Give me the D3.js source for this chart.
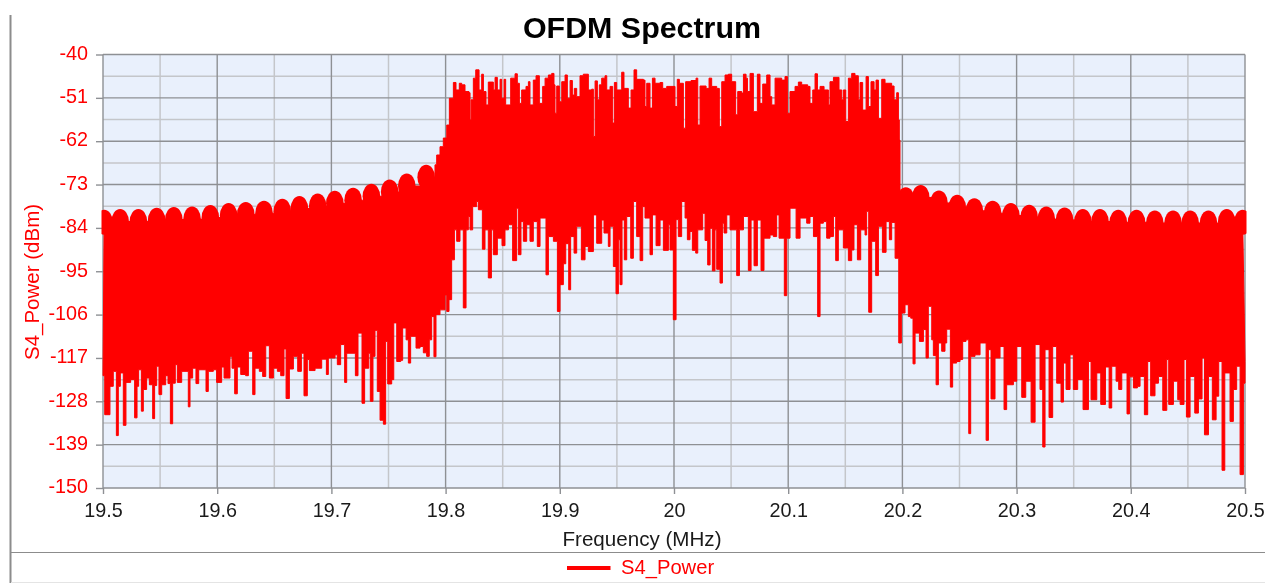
<!DOCTYPE html>
<html>
<head>
<meta charset="utf-8">
<script src="https://cdn.jsdelivr.net/npm/d3@7/dist/d3.min.js"></script>
<style>
  html, body { margin: 0; padding: 0; background: #fff; }
  svg { display: block; font-family: "Liberation Sans", Arial, sans-serif; filter: blur(0.4px); }
</style>
</head>
<body>
<svg id="chart" width="1265" height="583"></svg>
<script>
const xTicks = [19.5, 19.6, 19.7, 19.8, 19.9, 20, 20.1, 20.2, 20.3, 20.4, 20.5];
const xMinorTicks = [19.55, 19.65, 19.75, 19.85, 19.95, 20.05, 20.15, 20.25, 20.35, 20.45];
const yTicks = [-40, -51, -62, -73, -84, -95, -106, -117, -128, -139, -150];
const yMinorTicks = [-45.5, -56.5, -67.5, -78.5, -89.5, -100.5, -111.5, -122.5, -133.5, -144.5];

// rounded side-lobe tops of the stop bands [MHz, dBm]
const leftLobes = [
  [19.501,-79.4],[19.515,-79.2],[19.531,-79.2],[19.547,-78.9],[19.562,-78.7],[19.578,-78.6],
  [19.594,-78.2],[19.610,-77.7],[19.625,-77.4],[19.641,-77.1],[19.657,-76.6],[19.672,-75.9],
  [19.688,-75.3],[19.703,-74.6],[19.719,-73.8],[19.735,-72.8],[19.751,-71.7],[19.766,-70.2],
  [19.783,-68.0]
];
const rightLobes = [
  [20.203,-73.7],[20.216,-73.1],[20.232,-74.5],[20.248,-75.6],[20.263,-76.5],[20.279,-77.1],
  [20.295,-77.7],[20.311,-78.1],[20.326,-78.6],[20.342,-78.8],[20.358,-79.2],[20.373,-79.2],
  [20.389,-79.4],[20.405,-79.4],[20.421,-79.6],[20.437,-79.6],[20.452,-79.6],[20.468,-79.6],
  [20.484,-79.2],[20.498,-79.4]
];

// upper edge of the pass band
const passbandTop = [
  [19.7907,-68.0],[19.7922,-65.5],[19.7951,-63.4],[19.7980,-61.2],[19.8010,-57.9],[19.8033,-51.1],
  [19.8068,-47.1],[19.8091,-49.0],[19.8120,-47.3],[19.8141,-47.7],[19.8170,-49.4],[19.8205,-49.7],
  [19.8214,-56.6],[19.8223,-51.5],[19.8243,-46.0],[19.8264,-43.9],[19.8293,-49.0],[19.8316,-45.0],
  [19.8331,-49.4],[19.8354,-52.8],[19.8374,-47.0],[19.8418,-49.0],[19.8433,-45.8],[19.8453,-49.0],
  [19.8477,-46.3],[19.8491,-51.1],[19.8512,-46.3],[19.8526,-52.8],[19.8570,-46.0],[19.8608,-44.9],
  [19.8628,-47.3],[19.8646,-52.4],[19.8666,-49.0],[19.8704,-48.1],[19.8725,-46.9],[19.8739,-52.8],
  [19.8768,-46.5],[19.8792,-45.4],[19.8821,-52.4],[19.8850,-48.1],[19.8871,-46.0],[19.8900,-45.2],
  [19.8929,-44.8],[19.8949,-47.7],[19.8958,-54.9],[19.8973,-48.0],[19.8996,-52.0],[19.9017,-46.9],
  [19.9046,-45.2],[19.9066,-51.1],[19.9090,-46.6],[19.9110,-50.3],[19.9127,-48.6],[19.9148,-50.7],
  [19.9177,-45.4],[19.9206,-45.0],[19.9250,-49.0],[19.9279,-48.8],[19.9294,-60.8],[19.9309,-46.7],
  [19.9329,-51.5],[19.9346,-47.7],[19.9367,-46.0],[19.9396,-45.4],[19.9411,-49.0],[19.9440,-48.1],
  [19.9463,-57.4],[19.9478,-47.1],[19.9498,-49.0],[19.9542,-44.5],[19.9562,-48.6],[19.9600,-53.6],
  [19.9624,-49.0],[19.9650,-43.9],[19.9673,-46.3],[19.9732,-46.5],[19.9746,-53.2],[19.9761,-47.3],
  [19.9790,-53.6],[19.9811,-46.0],[19.9834,-47.3],[19.9878,-47.1],[19.9901,-48.6],[19.9936,-48.1],
  [19.9965,-48.1],[20.0009,-53.2],[20.0029,-46.3],[20.0047,-47.3],[20.0082,-58.7],[20.0102,-46.9],
  [20.0149,-46.6],[20.0193,-46.0],[20.0208,-57.9],[20.0228,-48.0],[20.0281,-48.6],[20.0307,-46.0],
  [20.0330,-48.1],[20.0374,-48.6],[20.0397,-58.3],[20.0418,-46.9],[20.0447,-45.2],[20.0476,-45.0],
  [20.0505,-46.9],[20.0540,-55.3],[20.0558,-49.4],[20.0593,-49.8],[20.0608,-45.0],[20.0631,-46.0],
  [20.0643,-49.4],[20.0666,-44.8],[20.0695,-54.5],[20.0730,-45.0],[20.0753,-52.4],[20.0777,-47.5],
  [20.0812,-45.2],[20.0841,-50.7],[20.0856,-52.8],[20.0885,-46.0],[20.0943,-46.5],[20.0972,-45.6],
  [20.0993,-54.9],[20.1016,-49.4],[20.1060,-48.1],[20.1089,-47.0],[20.1118,-47.7],[20.1171,-48.1],
  [20.1191,-52.4],[20.1215,-49.0],[20.1235,-44.9],[20.1256,-49.0],[20.1279,-48.1],[20.1314,-49.0],
  [20.1352,-52.8],[20.1366,-46.9],[20.1396,-45.8],[20.1445,-49.0],[20.1469,-51.5],[20.1483,-49.0],
  [20.1504,-57.0],[20.1527,-46.0],[20.1556,-44.8],[20.1585,-45.4],[20.1614,-51.5],[20.1629,-47.1],
  [20.1652,-54.1],[20.1682,-45.6],[20.1702,-53.2],[20.1725,-46.9],[20.1752,-49.0],[20.1769,-46.5],
  [20.1790,-56.2],[20.1819,-46.3],[20.1848,-47.3],[20.1906,-48.0],[20.1927,-51.5],[20.1950,-49.7],
  [20.1965,-56.6],[20.1973,-61.7],[20.1979,-75.2]
];

// lower edge of the whole trace, spikes included
const traceBottom = [
  [19.5000,-121.5],[19.5015,-131.4],[19.5061,-124.2],[19.5090,-120.4],[19.5117,-136.7],[19.5134,-124.2],
  [19.5152,-120.8],[19.5178,-134.1],[19.5201,-123.2],[19.5242,-122.5],[19.5277,-132.2],[19.5298,-124.2],
  [19.5312,-120.0],[19.5336,-130.5],[19.5353,-125.0],[19.5382,-122.1],[19.5406,-123.8],[19.5435,-132.4],
  [19.5452,-124.0],[19.5470,-119.1],[19.5490,-126.3],[19.5514,-123.8],[19.5549,-121.5],[19.5569,-123.5],
  [19.5590,-133.7],[19.5610,-123.4],[19.5633,-118.7],[19.5651,-123.2],[19.5689,-120.4],[19.5747,-129.4],
  [19.5762,-122.1],[19.5785,-119.6],[19.5814,-123.5],[19.5838,-120.0],[19.5902,-125.5],[19.5922,-120.4],
  [19.5966,-120.0],[19.5995,-123.2],[19.6039,-119.3],[19.6060,-122.1],[19.6112,-116.6],[19.6130,-119.6],
  [19.6153,-126.1],[19.6176,-119.3],[19.6206,-121.2],[19.6249,-121.5],[19.6273,-115.3],[19.6311,-126.3],
  [19.6331,-119.6],[19.6369,-120.4],[19.6398,-121.7],[19.6425,-113.9],[19.6457,-122.1],[19.6492,-119.6],
  [19.6527,-120.4],[19.6556,-121.5],[19.6585,-114.7],[19.6603,-127.3],[19.6632,-119.8],[19.6667,-116.6],
  [19.6705,-120.4],[19.6737,-115.8],[19.6760,-126.6],[19.6789,-117.4],[19.6807,-120.2],[19.6857,-119.6],
  [19.6915,-117.3],[19.6956,-121.2],[19.6973,-117.0],[19.7032,-116.2],[19.7052,-118.7],[19.7081,-113.6],
  [19.7116,-123.2],[19.7134,-115.8],[19.7210,-121.5],[19.7233,-110.7],[19.7268,-128.5],[19.7291,-119.6],
  [19.7327,-115.8],[19.7341,-128.0],[19.7364,-116.6],[19.7382,-110.0],[19.7402,-125.5],[19.7426,-132.8],
  [19.7455,-133.8],[19.7475,-112.8],[19.7493,-123.6],[19.7528,-122.5],[19.7546,-108.1],[19.7572,-117.9],
  [19.7607,-117.6],[19.7624,-109.4],[19.7654,-112.4],[19.7674,-118.3],[19.7694,-111.5],[19.7741,-114.5],
  [19.7776,-114.1],[19.7805,-115.7],[19.7834,-116.6],[19.7857,-112.4],[19.7878,-106.5],[19.7898,-116.7],
  [19.7916,-106.0],[19.7951,-104.8],[19.7995,-101.0],[19.8010,-105.2],[19.8030,-102.2],[19.8053,-92.1],
  [19.8077,-84.5],[19.8097,-87.4],[19.8126,-84.5],[19.8155,-104.3],[19.8179,-84.5],[19.8199,-81.1],
  [19.8214,-84.5],[19.8237,-78.6],[19.8272,-77.3],[19.8287,-79.4],[19.8322,-89.4],[19.8345,-84.5],
  [19.8374,-96.7],[19.8401,-84.5],[19.8418,-90.8],[19.8453,-86.6],[19.8494,-88.5],[19.8520,-84.5],
  [19.8550,-83.2],[19.8587,-92.3],[19.8622,-79.0],[19.8637,-90.8],[19.8660,-82.4],[19.8681,-87.4],
  [19.8710,-83.2],[19.8739,-87.4],[19.8768,-82.4],[19.8803,-88.7],[19.8827,-81.5],[19.8879,-95.9],
  [19.8900,-86.2],[19.8944,-87.4],[19.8979,-105.2],[19.9002,-98.4],[19.9031,-93.1],[19.9052,-88.0],
  [19.9078,-99.7],[19.9095,-86.2],[19.9125,-90.4],[19.9148,-83.6],[19.9189,-92.1],[19.9221,-88.7],
  [19.9250,-90.0],[19.9294,-80.7],[19.9323,-87.9],[19.9367,-82.0],[19.9387,-85.3],[19.9425,-88.7],
  [19.9440,-83.6],[19.9469,-93.8],[19.9492,-100.7],[19.9513,-87.0],[19.9527,-98.4],[19.9545,-82.0],
  [19.9565,-92.1],[19.9586,-81.1],[19.9621,-91.7],[19.9644,-77.3],[19.9673,-86.2],[19.9703,-92.3],
  [19.9726,-78.6],[19.9746,-81.5],[19.9790,-90.8],[19.9811,-80.7],[19.9843,-88.5],[19.9878,-82.0],
  [19.9907,-89.7],[19.9951,-83.2],[19.9965,-89.6],[19.9994,-107.3],[20.0018,-81.9],[20.0038,-86.2],
  [20.0067,-77.3],[20.0097,-81.5],[20.0117,-87.0],[20.0140,-84.9],[20.0161,-89.7],[20.0190,-90.4],
  [20.0208,-84.5],[20.0251,-80.3],[20.0272,-87.2],[20.0295,-93.4],[20.0316,-84.1],[20.0336,-94.9],
  [20.0359,-84.5],[20.0374,-94.5],[20.0403,-98.0],[20.0424,-82.8],[20.0438,-85.3],[20.0462,-80.7],
  [20.0491,-84.5],[20.0549,-96.1],[20.0573,-84.5],[20.0608,-81.1],[20.0651,-94.8],[20.0675,-82.0],
  [20.0701,-93.6],[20.0730,-82.0],[20.0762,-94.8],[20.0788,-86.6],[20.0841,-85.8],[20.0870,-86.2],
  [20.0899,-80.7],[20.0920,-86.6],[20.0966,-101.2],[20.0987,-86.6],[20.1016,-79.0],[20.1069,-86.6],
  [20.1104,-81.5],[20.1162,-82.8],[20.1191,-81.1],[20.1221,-86.2],[20.1258,-106.5],[20.1279,-82.8],
  [20.1308,-82.4],[20.1337,-86.6],[20.1366,-86.2],[20.1396,-81.1],[20.1416,-92.3],[20.1439,-84.5],
  [20.1483,-89.1],[20.1527,-92.3],[20.1556,-89.6],[20.1576,-83.2],[20.1606,-92.1],[20.1635,-84.5],
  [20.1673,-85.8],[20.1687,-79.8],[20.1705,-105.4],[20.1731,-87.4],[20.1766,-96.1],[20.1790,-83.6],
  [20.1825,-90.2],[20.1857,-82.4],[20.1886,-87.0],[20.1906,-82.6],[20.1936,-91.7],[20.1968,-113.2],
  [20.1991,-105.6],[20.2023,-103.5],[20.2052,-106.5],[20.2073,-106.9],[20.2093,-118.5],[20.2111,-110.7],
  [20.2149,-112.8],[20.2184,-109.8],[20.2207,-117.0],[20.2227,-103.9],[20.2257,-112.4],[20.2271,-116.4],
  [20.2295,-123.8],[20.2315,-113.2],[20.2344,-115.3],[20.2373,-113.2],[20.2388,-109.7],[20.2420,-124.4],
  [20.2440,-118.3],[20.2475,-117.9],[20.2505,-117.4],[20.2528,-112.8],[20.2557,-112.4],[20.2581,-136.2],
  [20.2598,-116.6],[20.2636,-116.2],[20.2680,-113.2],[20.2733,-137.9],[20.2753,-114.9],[20.2776,-127.4],
  [20.2811,-117.0],[20.2855,-114.1],[20.2890,-130.1],[20.2913,-123.8],[20.2972,-122.9],[20.3001,-114.1],
  [20.3045,-127.0],[20.3080,-122.9],[20.3127,-133.3],[20.3162,-113.6],[20.3205,-125.0],[20.3229,-139.6],
  [20.3249,-114.9],[20.3284,-132.1],[20.3316,-114.1],[20.3351,-123.4],[20.3389,-128.2],[20.3410,-118.3],
  [20.3433,-125.0],[20.3468,-116.2],[20.3497,-125.0],[20.3535,-122.5],[20.3582,-130.1],[20.3629,-117.9],
  [20.3652,-127.6],[20.3702,-120.8],[20.3737,-128.8],[20.3778,-119.3],[20.3810,-129.7],[20.3833,-119.1],
  [20.3871,-122.9],[20.3894,-125.0],[20.3921,-120.8],[20.3967,-131.2],[20.3988,-121.8],[20.4023,-124.6],
  [20.4058,-124.2],[20.4081,-121.7],[20.4119,-131.4],[20.4148,-117.9],[20.4174,-126.6],[20.4212,-123.4],
  [20.4242,-121.7],[20.4280,-130.3],[20.4315,-117.4],[20.4332,-128.8],[20.4373,-122.9],[20.4411,-127.6],
  [20.4432,-128.8],[20.4466,-117.4],[20.4487,-132.0],[20.4519,-121.7],[20.4560,-131.0],[20.4592,-127.4],
  [20.4624,-117.0],[20.4645,-136.5],[20.4680,-121.7],[20.4714,-132.7],[20.4747,-126.7],[20.4770,-117.9],
  [20.4799,-145.5],[20.4823,-120.8],[20.4869,-133.1],[20.4898,-125.0],[20.4927,-119.1],[20.4957,-146.6],
  [20.4986,-123.4],[20.5000,-117.9]
];

const RED = "#ff0000";
const svg = d3.select("#chart");
const plotLeft = 103, plotRight = 1245, plotTop = 54.5, plotBottom = 488;

const x = d3.scaleLinear().domain([19.5, 20.5]).range([plotLeft, plotRight]);
const y = d3.scaleLinear().domain([-40, -150]).range([plotTop, plotBottom]);

// frame of the panel
svg.append("line").attr("x1", 10.5).attr("x2", 10.5).attr("y1", 15).attr("y2", 583)
  .attr("stroke", "#8c8c8c").attr("stroke-width", 2);
svg.append("line").attr("x1", 11).attr("x2", 1265).attr("y1", 552.5).attr("y2", 552.5)
  .attr("stroke", "#8c8c8c").attr("stroke-width", 1);
svg.append("line").attr("x1", 11).attr("x2", 1265).attr("y1", 582.5).attr("y2", 582.5)
  .attr("stroke", "#e4e4e4").attr("stroke-width", 1);

svg.append("rect").attr("x", plotLeft).attr("y", plotTop)
  .attr("width", plotRight - plotLeft).attr("height", plotBottom - plotTop).attr("fill", "#e9f0fc");

// grid
const grid = svg.append("g");
grid.selectAll("line.vminor").data(xMinorTicks).join("line").attr("class", "vminor")
  .attr("x1", d => x(d)).attr("x2", d => x(d)).attr("y1", plotTop).attr("y2", plotBottom)
  .attr("stroke", "#c4c6ca").attr("stroke-width", 1.5);
grid.selectAll("line.hminor").data(yMinorTicks).join("line").attr("class", "hminor")
  .attr("x1", plotLeft).attr("x2", plotRight).attr("y1", d => y(d)).attr("y2", d => y(d))
  .attr("stroke", "#c4c6ca").attr("stroke-width", 1.5);
grid.selectAll("line.vmajor").data(xTicks).join("line").attr("class", "vmajor")
  .attr("x1", d => x(d)).attr("x2", d => x(d)).attr("y1", plotTop).attr("y2", plotBottom)
  .attr("stroke", "#8e9094").attr("stroke-width", 1.4);
grid.selectAll("line.hmajor").data(yTicks).join("line").attr("class", "hmajor")
  .attr("x1", plotLeft).attr("x2", plotRight).attr("y1", d => y(d)).attr("y2", d => y(d))
  .attr("stroke", "#8e9094").attr("stroke-width", 1.4);

// axes
const xAxis = svg.append("g").attr("transform", `translate(0,${plotBottom})`)
  .call(d3.axisBottom(x).tickValues(xTicks).tickFormat(d => String(d)).tickSize(6).tickPadding(9));
const yAxis = svg.append("g").attr("transform", `translate(${plotLeft},0)`)
  .call(d3.axisLeft(y).tickValues(yTicks).tickFormat(d => String(d)).tickSize(7).tickPadding(8));
xAxis.select(".domain").remove();
yAxis.select(".domain").remove();
xAxis.selectAll("line").attr("stroke", "#8e9094").attr("stroke-width", 1.4);
yAxis.selectAll("line").attr("stroke", "#8e9094").attr("stroke-width", 1.4);
xAxis.selectAll("text").attr("font-size", 19.8).attr("font-family", "Liberation Sans").attr("fill", "#1a1a1a");
yAxis.selectAll("text").attr("font-size", 19.8).attr("font-family", "Liberation Sans").attr("fill", RED).attr("dy", "0.24em");

// trace
svg.append("clipPath").attr("id", "plotClip").append("rect")
  .attr("x", plotLeft - 1.5).attr("y", plotTop).attr("width", plotRight - plotLeft + 3).attr("height", plotBottom - plotTop);
const trace = svg.append("g").attr("clip-path", "url(#plotClip)");

const lobeDepth = 12.5;   // px from a lobe's top down to its widest point
const upperLine = d3.line().x(d => x(d[0])).y(d => d[1]).curve(d3.curveStepAfter);
const lowerLine = d3.line().x(d => x(d[0])).y(d => y(d[1])).curve(d3.curveStepBefore);

const lobeEdge = d => [d[0], y(d[1]) + lobeDepth];
const upperPts = [
  ...leftLobes.map(lobeEdge),
  ...passbandTop.map(d => [d[0], y(d[1])]),
  ...rightLobes.map(lobeEdge)
];
const bodyPath = upperLine(upperPts) + "L" + lowerLine(traceBottom.slice().reverse()).slice(1) + "Z";

trace.append("path").attr("d", bodyPath)
  .attr("fill", RED).attr("stroke", RED).attr("stroke-width", 1);
trace.selectAll("ellipse").data([...leftLobes, ...rightLobes]).join("ellipse")
  .attr("cx", d => x(d[0])).attr("cy", d => y(d[1]) + lobeDepth)
  .attr("rx", 8.8).attr("ry", lobeDepth).attr("fill", RED);

// labels
svg.append("text").attr("x", 642).attr("y", 38).attr("text-anchor", "middle")
  .attr("font-size", 30.4).attr("font-weight", "bold").attr("fill", "#000").text("OFDM Spectrum");
svg.append("text").attr("x", 642).attr("y", 546).attr("text-anchor", "middle")
  .attr("font-size", 20.6).attr("fill", "#1a1a1a").text("Frequency (MHz)");
svg.append("text").attr("transform", "translate(39,282) rotate(-90)").attr("text-anchor", "middle")
  .attr("font-size", 20.5).attr("fill", RED).text("S4_Power (dBm)");

// legend
svg.append("line").attr("x1", 567).attr("x2", 610.5).attr("y1", 568).attr("y2", 568)
  .attr("stroke", RED).attr("stroke-width", 4);
svg.append("text").attr("x", 621).attr("y", 574).attr("font-size", 20.2).attr("fill", RED).text("S4_Power");
</script>
</body>
</html>
